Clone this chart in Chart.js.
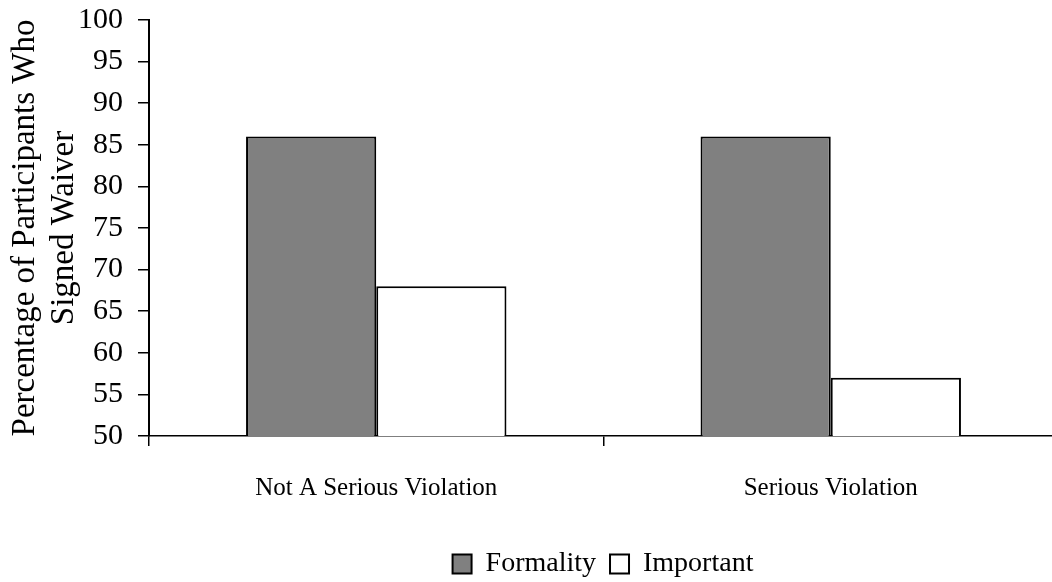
<!DOCTYPE html>
<html>
<head>
<meta charset="utf-8">
<script src="https://cdn.jsdelivr.net/npm/chart.js@4/dist/chart.umd.min.js"></script>
<style>
  html, body { margin: 0; padding: 0; background: #fff; overflow: hidden; }
  #wrap { width: 1062px; height: 582px; }
</style>
</head>
<body>
<div id="wrap"><canvas id="c" width="1062" height="582"></canvas></div>
<script>
const categories = ["Not A Serious Violation", "Serious Violation"];
const formality = [86, 86];
const important = [68, 57];
const yTitle = ["Percentage of Participants Who", "Signed Waiver"];
const seriesNames = ["Formality", "Important"];

const serif = "'Liberation Serif', 'Times New Roman', serif";

const legendShift = {
  id: 'legendShift',
  afterLayout(chart) {
    const lg = chart.legend;
    if (!lg) return;
    const dx = 74, dy = 8;
    lg.left += dx; lg.right += dx;
    lg.top += dy; lg.bottom += dy;
  }
};

new Chart(document.getElementById('c'), {
  type: 'bar',
  data: {
    labels: categories,
    datasets: [
      { label: seriesNames[0], data: formality, backgroundColor: '#808080', borderColor: '#000', borderWidth: 2, borderSkipped: false },
      { label: seriesNames[1], data: important, backgroundColor: '#ffffff', borderColor: '#000', borderWidth: 2, borderSkipped: false }
    ]
  },
  options: {
    responsive: false,
    animation: false,
    devicePixelRatio: 1,
    layout: { padding: { top: 20, right: 4, bottom: 2, left: 0 } },
    datasets: { bar: { categoryPercentage: 0.573, barPercentage: 1.0 } },
    plugins: {
      legend: {
        position: 'bottom',
        labels: {
          font: { family: serif, size: 28 },
          color: '#000',
          boxWidth: 19,
          boxHeight: 19,
          padding: 14
        }
      },
      tooltip: { enabled: false }
    },
    scales: {
      x: {
        grid: { display: true, drawOnChartArea: false, drawTicks: true, tickLength: 10, offset: true, color: '#000', lineWidth: 1.5 },
        border: { display: true, color: '#000', width: 1.5 },
        ticks: { font: { family: serif, size: 25 }, color: '#000', padding: 27, maxRotation: 0 },
        afterFit: (s) => { s.height = 92; }
      },
      y: {
        min: 50, max: 100,
        ticks: { stepSize: 5, font: { family: serif, size: 30 }, color: '#000', padding: 15 },
        grid: { display: true, drawOnChartArea: false, drawTicks: true, tickLength: 11, color: '#000', lineWidth: 1.5 },
        border: { display: true, color: '#000', width: 2 },
        title: { display: true, text: yTitle, font: { family: serif, size: 33, lineHeight: 1.18 }, color: '#000', padding: { top: 6, bottom: 0 } },
        afterFit: (s) => { s.width = 149; s.paddingTop = 0; s.paddingBottom = 0; }
      }
    }
  },
  plugins: [legendShift]
});
</script>
</body>
</html>
